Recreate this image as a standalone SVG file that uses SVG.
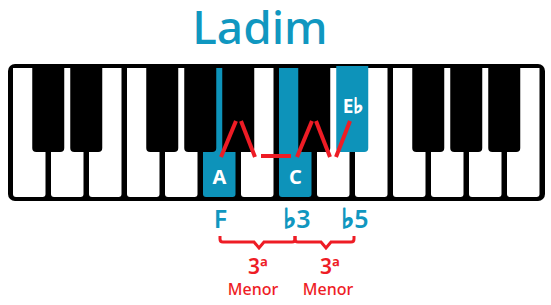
<svg xmlns="http://www.w3.org/2000/svg" xmlns:xlink="http://www.w3.org/1999/xlink" width="551" height="305" viewBox="0 0 551 305">
<style>
.white{fill:#ffffff}
.black{fill:#000000}
.hl{fill:#0d93ba}
.keylbl{font-family:"Noto Sans","DejaVu Sans",sans-serif;font-weight:700;fill:#ffffff;text-anchor:middle}
.note{font-family:"Noto Sans","DejaVu Sans",sans-serif;font-weight:600;fill:#1097c0;text-anchor:middle;font-size:25px}
.flatw{stroke:#ffffff;stroke-width:1.3}
.flatb{stroke:#1097c0;stroke-width:1.6}
.red{stroke:#ee1c25;stroke-width:4;fill:none}
.brace{stroke:#ee1c25;stroke-width:3;fill:none;stroke-linejoin:miter}
.int{font-family:"Noto Sans","DejaVu Sans",sans-serif;fill:#ee1c25;text-anchor:middle}
</style>
<defs>
<path id="wk" d="M0,0 H32.5 V126 a3,3 0 0 1 -3,3 H3 a3,3 0 0 1 -3,-3 Z"/>
<path id="bk" d="M0,0 H32 V82 a4,4 0 0 1 -4,4 H4 a4,4 0 0 1 -4,-4 Z"/>
</defs>
<g id="title">
<text x="260" y="44" style="font-family:'Noto Sans','DejaVu Sans',sans-serif;font-weight:500;font-size:46px;fill:#1097c0;text-anchor:middle">Ladim</text>
</g>
<g id="keyboard">
<rect x="8" y="64" width="537" height="137" rx="7" class="black"/>
<use xlink:href="#wk" x="13" y="68" class="white"/>
<use xlink:href="#wk" x="51" y="68" class="white"/>
<use xlink:href="#wk" x="89" y="68" class="white"/>
<use xlink:href="#wk" x="127" y="68" class="white"/>
<use xlink:href="#wk" x="165" y="68" class="white"/>
<use xlink:href="#wk" x="241" y="68" class="white"/>
<use xlink:href="#wk" x="317" y="68" class="white"/>
<use xlink:href="#wk" x="355" y="68" class="white"/>
<use xlink:href="#wk" x="393" y="68" class="white"/>
<use xlink:href="#wk" x="431" y="68" class="white"/>
<use xlink:href="#wk" x="469" y="68" class="white"/>
<use xlink:href="#wk" x="507" y="68" class="white"/>
<use xlink:href="#bk" x="32.25" y="66" class="black"/>
<use xlink:href="#bk" x="70.25" y="66" class="black"/>
<use xlink:href="#bk" x="146.25" y="66" class="black"/>
<use xlink:href="#bk" x="412.25" y="66" class="black"/>
<use xlink:href="#bk" x="450.25" y="66" class="black"/>
<use xlink:href="#bk" x="488.25" y="66" class="black"/>
</g>
<g id="key-A">
<use xlink:href="#wk" x="203" y="68" class="hl"/>
<use xlink:href="#bk" x="184.25" y="66" class="black"/>
<use xlink:href="#bk" x="222.25" y="66" class="black"/>
<text x="219.5" y="184" class="keylbl" font-size="20">A</text>
</g>
<g id="key-C">
<use xlink:href="#wk" x="279" y="68" class="hl"/>
<use xlink:href="#bk" x="298.25" y="66" class="black"/>
<text x="295.5" y="184" class="keylbl" font-size="20">C</text>
</g>
<g id="key-Eb">
<use xlink:href="#bk" x="336.25" y="66" class="hl"/>
<text x="353" y="113" class="keylbl" font-size="19">E<tspan class="flatw" font-size="21">♭</tspan></text>
</g>
<g id="connectors">
<line x1="221" y1="157" x2="236" y2="121" class="red"/>
<line x1="241" y1="121" x2="255" y2="157" class="red"/>
<line x1="261" y1="156" x2="291" y2="156" class="red"/>
<line x1="297" y1="157" x2="312" y2="121" class="red"/>
<line x1="316" y1="121" x2="330" y2="157" class="red"/>
<line x1="336" y1="157" x2="350" y2="121" class="red"/>
<path d="M220,236 V239 Q220,242 223,242 H254 L259,248 L264,242 H292 Q295,242 295,239 V236" class="brace"/>
<path d="M295,236 V239 Q295,242 298,242 H321 L326,248 L331,242 H351 Q354,242 354,239 V236" class="brace"/>
</g>
<g id="note-F"><text x="220.5" y="228" class="note">F</text></g>
<g id="note-b3"><text x="297" y="228" class="note"><tspan class="flatb" font-size="27">♭</tspan>3</text></g>
<g id="note-b5"><text x="355" y="228" class="note"><tspan class="flatb" font-size="27">♭</tspan>5</text></g>
<g id="interval-1">
<text x="258" y="274" class="int" font-size="21" font-weight="600">3ª</text>
<text x="253" y="295" class="int" font-size="16" font-weight="500">Menor</text>
</g>
<g id="interval-2">
<text x="330" y="274" class="int" font-size="21" font-weight="600">3ª</text>
<text x="328" y="295" class="int" font-size="16" font-weight="500">Menor</text>
</g>
</svg>
